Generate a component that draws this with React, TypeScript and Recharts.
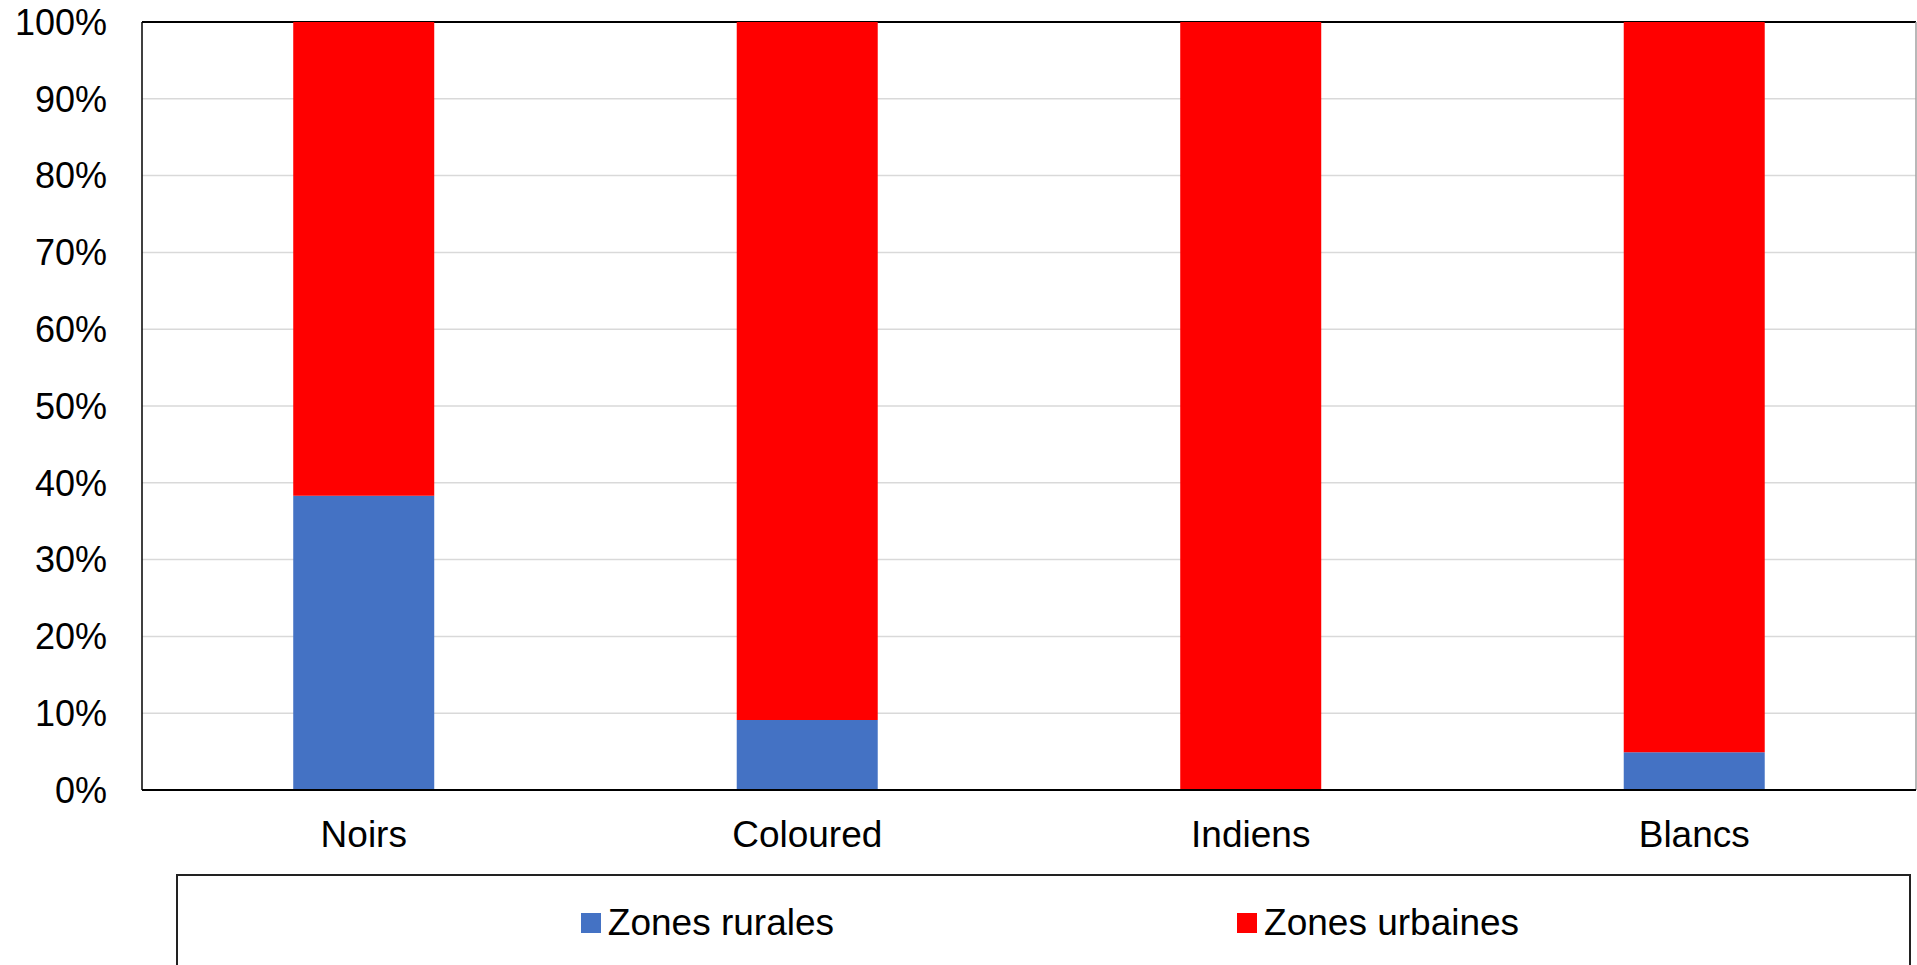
import { BarChart, Bar, XAxis, YAxis, CartesianGrid, Legend } from "recharts";

const groupes = ["Noirs", "Coloured", "Indiens", "Blancs"];
const zonesRurales = [0.383, 0.091, 0, 0.049];
const zonesUrbaines = [0.617, 0.909, 1, 0.951];
const pctTicks = [0, 0.1, 0.2, 0.3, 0.4, 0.5, 0.6, 0.7, 0.8, 0.9, 1];

const data = groupes.map((g, i) => ({
  groupe: g,
  rurales: zonesRurales[i],
  urbaines: zonesUrbaines[i],
}));

const MARGIN = { top: 22, right: 1, left: 0, bottom: 115 };
const FONT = "'Liberation Sans', Arial, sans-serif";

function LegendBox({ payload }: any) {
  return (
    <div
      style={{
        boxSizing: "border-box",
        width: "100%",
        height: "100%",
        border: "2px solid #222",
        borderBottom: "none",
        display: "flex",
        justifyContent: "center",
        alignItems: "center",
        gap: 403,
        paddingLeft: 13,
        paddingTop: 4,
      }}
    >
      {(payload || []).map((p: any) => (
        <div key={p.value} style={{ display: "flex", alignItems: "center", gap: 7 }}>
          <span style={{ width: 20, height: 20, background: p.color, display: "inline-block" }} />
          <span style={{ fontSize: 37, color: "#000", fontFamily: FONT }}>{p.value}</span>
        </div>
      ))}
    </div>
  );
}

export default function App() {
  return (
    <div style={{ position: "absolute", left: 0, top: 0, fontFamily: FONT, background: "#fff" }}>
      <BarChart width={1917} height={965} data={data} margin={MARGIN} barCategoryGap="34.1%">
        <CartesianGrid
          horizontal={(p: any) => {
            const top = Math.abs(p.y1 - MARGIN.top) < 1;
            return (
              <line
                key={p.key}
                x1={p.x1}
                y1={p.y1}
                x2={p.x2}
                y2={p.y2}
                stroke={top ? "#000" : "#d9d9d9"}
                strokeWidth={top ? 2 : 1.5}
              />
            );
          }}
          verticalCoordinatesGenerator={({ offset }: any) => [offset.left + offset.width]}
          vertical={(p: any) => (
            <line key={p.key} x1={p.x1} y1={p.y1} x2={p.x2} y2={p.y2} stroke="#a0a0a0" strokeWidth={1.5} />
          )}
        />
        <XAxis
          dataKey="groupe"
          height={60}
          tickLine={false}
          tickMargin={25}
          axisLine={{ stroke: "#000", strokeWidth: 2 }}
          tick={{ fontSize: 37, fill: "#000" }}
        />
        <YAxis
          width={142}
          domain={[0, 1]}
          ticks={pctTicks}
          tickFormatter={(v: number) => `${Math.round(v * 100)}%`}
          tickLine={false}
          tickMargin={29}
          axisLine={{ stroke: "#000", strokeWidth: 1.5 }}
          tick={{ fontSize: 36, fill: "#000" }}
        />
        <Legend
          layout="horizontal"
          verticalAlign="middle"
          align="center"
          wrapperStyle={{ left: 176, top: 874, width: 1735, height: 91 }}
          content={<LegendBox />}
        />
        <Bar dataKey="rurales" name="Zones rurales" stackId="a" fill="#4472C4" isAnimationActive={false} />
        <Bar dataKey="urbaines" name="Zones urbaines" stackId="a" fill="#FF0000" isAnimationActive={false} />
      </BarChart>
    </div>
  );
}
